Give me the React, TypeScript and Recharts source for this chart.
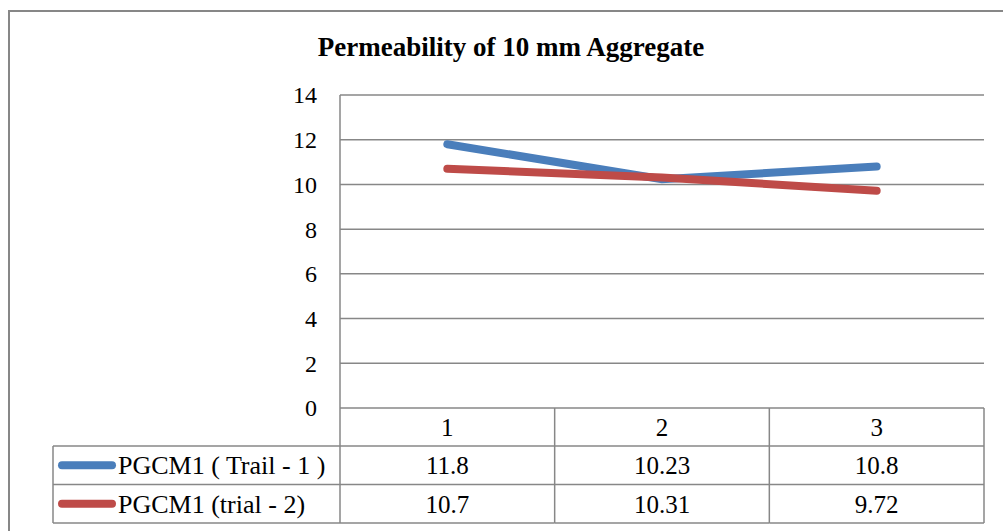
import { LineChart, Line, XAxis, YAxis, CartesianGrid } from "recharts"

const CATEGORIES = ["1", "2", "3"]
const TRIAL_1 = [11.8, 10.23, 10.8]
const TRIAL_2 = [10.7, 10.31, 9.72]
const Y_TICKS = [0, 2, 4, 6, 8, 10, 12, 14]

const SERIES = [
  { key: "trial1", name: "PGCM1 ( Trail - 1 )", color: "#4A7EBB", values: TRIAL_1 },
  { key: "trial2", name: "PGCM1 (trial - 2)", color: "#BE4B48", values: TRIAL_2 },
]

const data = CATEGORIES.map((c, i) => ({ cat: c, trial1: TRIAL_1[i], trial2: TRIAL_2[i] }))

const FONT = "'Liberation Serif', 'Times New Roman', serif"
const GRID = "#878787"
const COL_W = 644 / 3
const ROWS = [0, 38, 76.5, 115]
const LEGEND_LEFT = 53

function SerifText({ children, size = 24, ...rest }: any) {
  return (
    <text fontFamily={FONT} fontSize={size} fill="#000" {...rest}>
      {children}
    </text>
  )
}

function TableTick(props: any) {
  const { x, y, payload } = props
  const idx = CATEGORIES.indexOf(String(payload.value))
  const left = x - COL_W / 2
  const right = x + COL_W / 2
  const mid = (a: number, b: number) => (a + b) / 2
  return (
    <g>
      {/* column borders */}
      <line x1={right} y1={y} x2={right} y2={y + ROWS[3]} stroke={GRID} strokeWidth={1.5} />
      {idx === 0 && <line x1={left} y1={y} x2={left} y2={y + ROWS[3]} stroke={GRID} strokeWidth={1.5} />}
      {ROWS.slice(1).map(r => (
        <line key={r} x1={idx === 0 ? LEGEND_LEFT : left} y1={y + r} x2={right} y2={y + r} stroke={GRID} strokeWidth={1.5} />
      ))}
      <SerifText size={25} x={x} y={y + mid(ROWS[0], ROWS[1])} dy="0.35em" textAnchor="middle">
        {payload.value}
      </SerifText>
      {SERIES.map((s, si) => (
        <SerifText size={25} key={s.key} x={x} y={y + mid(ROWS[si + 1], ROWS[si + 2])} dy="0.35em" textAnchor="middle">
          {String(s.values[idx])}
        </SerifText>
      ))}
      {idx === 0 && (
        <g>
          <line x1={LEGEND_LEFT} y1={y + ROWS[1]} x2={LEGEND_LEFT} y2={y + ROWS[3]} stroke={GRID} strokeWidth={1.5} />
          {SERIES.map((s, si) => {
            const cy = y + mid(ROWS[si + 1], ROWS[si + 2])
            return (
              <g key={s.key}>
                <line x1={62} y1={cy} x2={112} y2={cy} stroke={s.color} strokeWidth={8} strokeLinecap="round" />
                <SerifText size={26} x={118} y={cy} dy="0.35em" textAnchor="start">
                  {s.name}
                </SerifText>
              </g>
            )
          })}
        </g>
      )}
    </g>
  )
}

function YTick(props: any) {
  const { x, y, payload } = props
  return (
    <SerifText x={x} y={y} dy="0.35em" textAnchor="end">
      {payload.value}
    </SerifText>
  )
}

export default function App() {
  return (
    <div style={{ position: "absolute", left: 0, top: 0, width: 1003, height: 531, overflow: "hidden", background: "#fff", fontFamily: FONT }}>
      <div style={{ position: "absolute", left: 8, top: 10, width: 1200, height: 800, border: `2px solid ${GRID}` }} />
      <div
        style={{
          position: "absolute", left: 0, top: 34, width: 1022, textAlign: "center",
          fontFamily: FONT, fontWeight: "bold", fontSize: 27, lineHeight: 1, color: "#000",
        }}
      >
        Permeability of 10 mm Aggregate
      </div>
      <div style={{ position: "absolute", left: 0, top: 0 }}>
        <LineChart width={1003} height={531} data={data} margin={{ top: 95, right: 19, left: 280, bottom: 8 }}>
          <CartesianGrid vertical={false} stroke={GRID} strokeWidth={1.5} />
          <XAxis
            dataKey="cat"
            padding={{ left: COL_W / 2, right: COL_W / 2 }}
            height={115}
            axisLine={false}
            tickLine={false}
            tickSize={0}
            tickMargin={0}
            interval={0}
            tick={(p: any) => <TableTick {...p} />}
          />
          <YAxis
            width={60}
            domain={[0, 14]}
            ticks={Y_TICKS}
            interval={0}
            axisLine={{ stroke: GRID, strokeWidth: 1.5 }}
            tickLine={false}
            tickSize={0}
            tickMargin={23}
            tick={(p: any) => <YTick {...p} />}
          />
          {SERIES.map(s => (
            <Line
              key={s.key}
              dataKey={s.key}
              name={s.name}
              stroke={s.color}
              strokeWidth={8}
              strokeLinecap="round"
              dot={false}
              activeDot={false}
              isAnimationActive={false}
            />
          ))}
        </LineChart>
      </div>
    </div>
  )
}
